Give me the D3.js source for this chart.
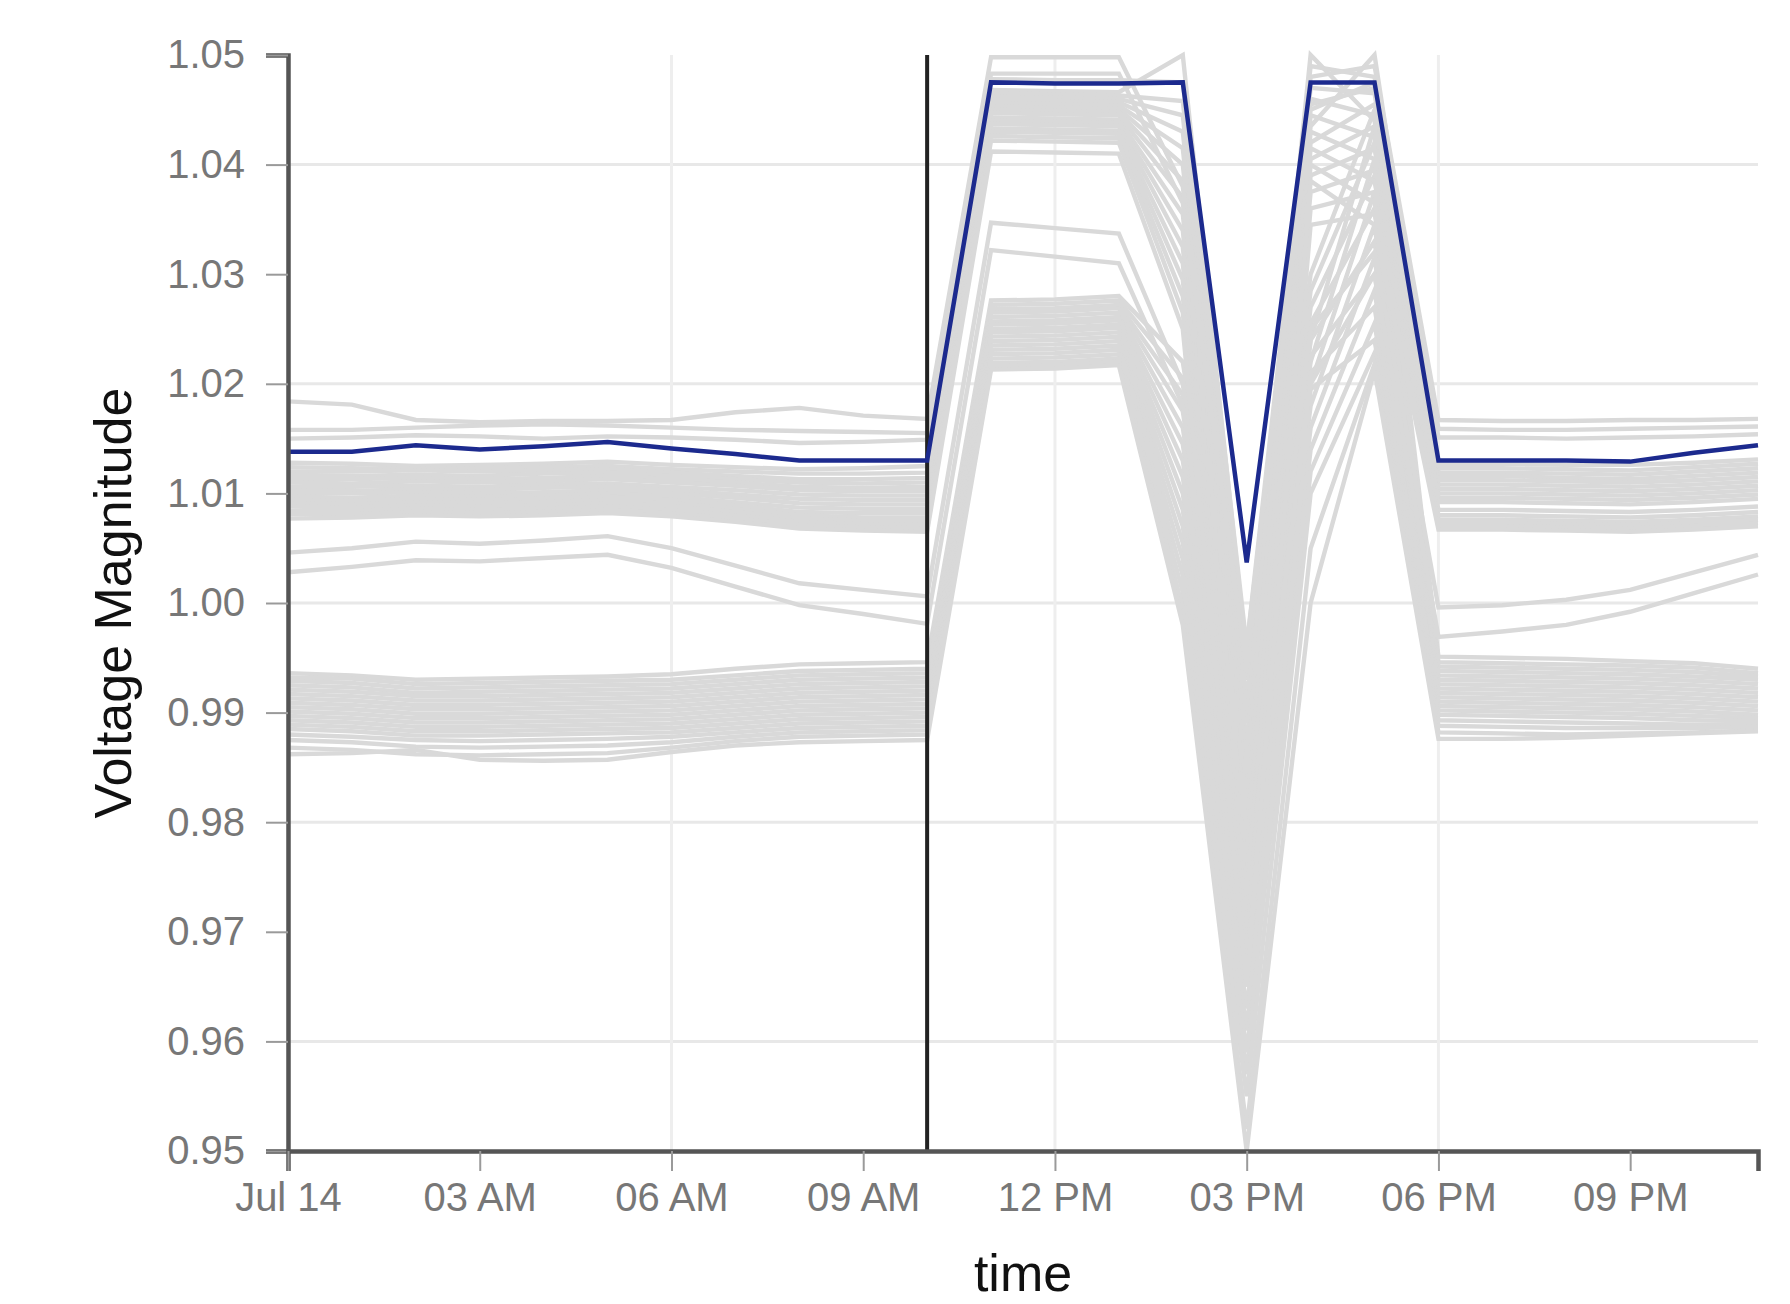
<!DOCTYPE html>
<html><head><meta charset="utf-8">
<script src="https://cdn.jsdelivr.net/npm/d3@7"></script>
<style>
html,body{margin:0;padding:0;background:#fff;}
svg{display:block;font-family:"Liberation Sans",Arial,Helvetica,sans-serif;}
</style></head><body>
<svg id="chart" width="1790" height="1304"></svg>
<script>
// ---------- DATA ----------
const hoursOfDay = [0,1,2,3,4,5,6,7,8,9,10,11,12,13,14,15,16,17,18,19,20,21,22,23];
const xTickHours = [0,3,6,9,12,15,18,21];
const xTickLabels = ["Jul 14","03 AM","06 AM","09 AM","12 PM","03 PM","06 PM","09 PM"];
const yTickValues = [0.95,0.96,0.97,0.98,0.99,1.00,1.01,1.02,1.03,1.04,1.05];
const gridYValues = [0.96,0.98,1.00,1.02,1.04];
const gridXHours = [0,6,12,18];
const markerHour = 10;

const selectedSeries = [1.0138,1.0138,1.0144,1.0140,1.0143,1.0147,1.0141,1.0136,1.0130,1.0130,1.0130, 1.0475,1.0474,1.0474,1.0475,1.0037,1.0475,1.0475, 1.0130,1.0130,1.0130,1.0129,1.0137,1.0144];

const grayUpper = [
 [1.0184,1.0181,1.0167,1.0165,1.0166,1.0166,1.0167,1.0174,1.0178,1.0171,1.0168, 1.0498,1.0498,1.0498,1.0380,0.9960,1.0480,1.0490, 1.0167,1.0166,1.0166,1.0167,1.0167,1.0168],
 [1.0158,1.0158,1.0160,1.0162,1.0163,1.0162,1.0160,1.0158,1.0157,1.0156,1.0155, 1.0483,1.0483,1.0483,1.0365,0.9940,1.0490,1.0480, 1.0159,1.0158,1.0158,1.0159,1.0160,1.0161],
 [1.0150,1.0151,1.0153,1.0152,1.0150,1.0152,1.0151,1.0149,1.0146,1.0147,1.0149, 1.0478,1.0477,1.0477,1.0475,0.9960,1.0450,1.0475, 1.0151,1.0151,1.0150,1.0151,1.0152,1.0154]
];

const grayTopBand = [
 [1.0128,1.0127,1.0125,1.0126,1.0127,1.0129,1.0126,1.0124,1.0122,1.0123,1.0125, 1.0468,1.0467,1.0466,1.0500,0.9950,1.0455,1.0470, 1.0127,1.0127,1.0126,1.0126,1.0128,1.0131],
 [1.0124,1.0123,1.0122,1.0123,1.0124,1.0125,1.0122,1.0120,1.0118,1.0118,1.0119, 1.0465,1.0464,1.0463,1.0458,0.9930,1.0500,1.0440, 1.0123,1.0123,1.0122,1.0121,1.0124,1.0127],
 [1.0120,1.0120,1.0121,1.0120,1.0121,1.0122,1.0119,1.0116,1.0113,1.0113,1.0114, 1.0462,1.0461,1.0460,1.0445,0.9910,1.0435,1.0500, 1.0119,1.0119,1.0118,1.0117,1.0120,1.0123],
 [1.0117,1.0116,1.0117,1.0116,1.0118,1.0119,1.0116,1.0113,1.0110,1.0109,1.0110, 1.0459,1.0458,1.0457,1.0430,0.9890,1.0470,1.0465, 1.0116,1.0116,1.0114,1.0113,1.0116,1.0119],
 [1.0113,1.0113,1.0114,1.0113,1.0114,1.0116,1.0113,1.0110,1.0106,1.0105,1.0106, 1.0456,1.0455,1.0454,1.0415,0.9870,1.0420,1.0455, 1.0112,1.0112,1.0111,1.0110,1.0112,1.0115],
 [1.0110,1.0109,1.0111,1.0110,1.0111,1.0113,1.0110,1.0107,1.0103,1.0102,1.0102, 1.0453,1.0452,1.0451,1.0400,0.9850,1.0460,1.0445, 1.0108,1.0108,1.0107,1.0106,1.0108,1.0111],
 [1.0106,1.0106,1.0107,1.0106,1.0108,1.0109,1.0106,1.0103,1.0099,1.0098,1.0098, 1.0450,1.0449,1.0448,1.0385,0.9830,1.0405,1.0435, 1.0104,1.0104,1.0103,1.0102,1.0104,1.0107],
 [1.0103,1.0102,1.0104,1.0103,1.0105,1.0106,1.0103,1.0099,1.0095,1.0094,1.0094, 1.0447,1.0446,1.0445,1.0370,0.9810,1.0445,1.0425, 1.0100,1.0100,1.0099,1.0098,1.0100,1.0103],
 [1.0100,1.0100,1.0101,1.0100,1.0101,1.0103,1.0100,1.0096,1.0091,1.0090,1.0090, 1.0443,1.0442,1.0441,1.0355,0.9790,1.0390,1.0415, 1.0096,1.0096,1.0095,1.0094,1.0096,1.0099],
 [1.0097,1.0096,1.0098,1.0097,1.0098,1.0100,1.0097,1.0092,1.0087,1.0086,1.0086, 1.0440,1.0439,1.0438,1.0340,0.9770,1.0430,1.0405, 1.0092,1.0092,1.0091,1.0090,1.0092,1.0095],
 [1.0094,1.0093,1.0095,1.0094,1.0095,1.0097,1.0094,1.0089,1.0083,1.0082,1.0082, 1.0437,1.0436,1.0435,1.0325,0.9750,1.0375,1.0395, 1.0085,1.0085,1.0084,1.0083,1.0085,1.0088],
 [1.0091,1.0090,1.0092,1.0091,1.0092,1.0094,1.0091,1.0086,1.0080,1.0078,1.0078, 1.0433,1.0432,1.0431,1.0310,0.9730,1.0415,1.0385, 1.0080,1.0080,1.0079,1.0078,1.0080,1.0083],
 [1.0088,1.0087,1.0089,1.0088,1.0089,1.0091,1.0088,1.0083,1.0077,1.0075,1.0075, 1.0430,1.0429,1.0428,1.0295,0.9710,1.0360,1.0375, 1.0076,1.0076,1.0075,1.0074,1.0076,1.0079],
 [1.0084,1.0084,1.0086,1.0085,1.0086,1.0088,1.0085,1.0080,1.0074,1.0072,1.0071, 1.0426,1.0425,1.0424,1.0280,0.9690,1.0400,1.0365, 1.0073,1.0073,1.0072,1.0071,1.0073,1.0076],
 [1.0081,1.0081,1.0083,1.0082,1.0083,1.0085,1.0082,1.0077,1.0071,1.0069,1.0068, 1.0422,1.0421,1.0420,1.0265,0.9670,1.0345,1.0355, 1.0070,1.0070,1.0069,1.0068,1.0070,1.0073],
 [1.0077,1.0078,1.0080,1.0079,1.0080,1.0082,1.0079,1.0074,1.0068,1.0066,1.0065, 1.0412,1.0411,1.0410,1.0250,0.9650,1.0385,1.0345, 1.0067,1.0067,1.0066,1.0065,1.0067,1.0070]
];

const grayMiddle = [
 [1.0046,1.0050,1.0056,1.0054,1.0057,1.0061,1.0050,1.0034,1.0018,1.0012,1.0006, 1.0347,1.0342,1.0337,1.0200,0.9770,1.0250,1.0320, 0.9996,0.9998,1.0003,1.0012,1.0028,1.0044],
 [1.0028,1.0033,1.0039,1.0038,1.0041,1.0044,1.0032,1.0015,0.9998,0.9990,0.9981, 1.0322,1.0316,1.0310,1.0180,0.9750,1.0200,1.0300, 0.9969,0.9974,0.9980,0.9992,1.0009,1.0026]
];

const grayBottomBand = [
 [0.9936,0.9934,0.9930,0.9931,0.9932,0.9933,0.9935,0.9940,0.9944,0.9945,0.9946, 1.0276,1.0277,1.0280,1.0220,0.9850,1.0300,1.0450, 0.9951,0.9950,0.9949,0.9947,0.9945,0.9940],
 [0.9932,0.9931,0.9926,0.9927,0.9928,0.9929,0.9930,0.9934,0.9938,0.9939,0.9940, 1.0272,1.0273,1.0276,1.0205,0.9830,1.0240,1.0435, 0.9946,0.9945,0.9944,0.9943,0.9941,0.9936],
 [0.9929,0.9927,0.9922,0.9923,0.9924,0.9925,0.9926,0.9930,0.9934,0.9935,0.9936, 1.0268,1.0269,1.0272,1.0190,0.9810,1.0285,1.0420, 0.9942,0.9941,0.9940,0.9939,0.9937,0.9933],
 [0.9925,0.9923,0.9918,0.9919,0.9920,0.9921,0.9922,0.9926,0.9930,0.9931,0.9932, 1.0265,1.0266,1.0269,1.0175,0.9790,1.0220,1.0405, 0.9938,0.9937,0.9936,0.9935,0.9933,0.9930],
 [0.9921,0.9919,0.9915,0.9915,0.9916,0.9917,0.9918,0.9922,0.9926,0.9927,0.9928, 1.0261,1.0262,1.0265,1.0160,0.9770,1.0270,1.0390, 0.9934,0.9933,0.9932,0.9931,0.9929,0.9926],
 [0.9917,0.9915,0.9911,0.9911,0.9912,0.9913,0.9914,0.9918,0.9922,0.9923,0.9924, 1.0257,1.0258,1.0261,1.0145,0.9750,1.0200,1.0375, 0.9930,0.9929,0.9928,0.9927,0.9925,0.9922],
 [0.9913,0.9911,0.9907,0.9907,0.9908,0.9909,0.9910,0.9914,0.9918,0.9919,0.9920, 1.0254,1.0255,1.0258,1.0130,0.9730,1.0255,1.0360, 0.9926,0.9925,0.9924,0.9923,0.9921,0.9918],
 [0.9909,0.9907,0.9903,0.9903,0.9904,0.9905,0.9906,0.9910,0.9914,0.9915,0.9916, 1.0250,1.0251,1.0254,1.0115,0.9710,1.0180,1.0345, 0.9922,0.9921,0.9920,0.9919,0.9917,0.9914],
 [0.9905,0.9903,0.9899,0.9899,0.9900,0.9901,0.9902,0.9906,0.9910,0.9911,0.9912, 1.0247,1.0248,1.0251,1.0100,0.9690,1.0240,1.0330, 0.9918,0.9917,0.9916,0.9915,0.9913,0.9910],
 [0.9901,0.9899,0.9895,0.9895,0.9896,0.9897,0.9898,0.9902,0.9906,0.9907,0.9908, 1.0243,1.0244,1.0247,1.0085,0.9670,1.0160,1.0315, 0.9914,0.9913,0.9912,0.9911,0.9909,0.9906],
 [0.9897,0.9895,0.9891,0.9891,0.9892,0.9893,0.9894,0.9898,0.9902,0.9903,0.9904, 1.0239,1.0240,1.0243,1.0070,0.9650,1.0225,1.0300, 0.9910,0.9909,0.9908,0.9907,0.9905,0.9902],
 [0.9893,0.9891,0.9887,0.9887,0.9888,0.9889,0.9890,0.9894,0.9898,0.9899,0.9900, 1.0235,1.0236,1.0239,1.0055,0.9630,1.0140,1.0285, 0.9906,0.9905,0.9904,0.9903,0.9901,0.9898],
 [0.9889,0.9887,0.9883,0.9883,0.9884,0.9885,0.9886,0.9890,0.9894,0.9895,0.9896, 1.0231,1.0232,1.0235,1.0040,0.9610,1.0210,1.0270, 0.9902,0.9901,0.9900,0.9899,0.9897,0.9895],
 [0.9885,0.9883,0.9879,0.9879,0.9880,0.9881,0.9882,0.9886,0.9890,0.9891,0.9892, 1.0227,1.0228,1.0231,1.0025,0.9590,1.0120,1.0255, 0.9898,0.9897,0.9896,0.9895,0.9893,0.9892],
 [0.9880,0.9878,0.9875,0.9874,0.9875,0.9876,0.9878,0.9882,0.9886,0.9887,0.9888, 1.0223,1.0224,1.0227,1.0010,0.9570,1.0195,1.0240, 0.9893,0.9892,0.9891,0.9890,0.9889,0.9889],
 [0.9875,0.9873,0.9869,0.9868,0.9869,0.9870,0.9873,0.9878,0.9882,0.9883,0.9884, 1.0219,1.0220,1.0223,0.9995,0.9550,1.0100,1.0228, 0.9888,0.9887,0.9886,0.9886,0.9886,0.9887],
 [0.9868,0.9866,0.9862,0.9861,0.9862,0.9863,0.9868,0.9874,0.9878,0.9879,0.9880, 1.0216,1.0217,1.0220,0.9985,0.9520,1.0050,1.0218, 0.9882,0.9881,0.9880,0.9881,0.9882,0.9884],
 [0.9862,0.9863,0.9866,0.9857,0.9856,0.9857,0.9864,0.9870,0.9873,0.9874,0.9875, 1.0213,1.0214,1.0217,0.9980,0.9500,1.0000,1.0212, 0.9876,0.9876,0.9877,0.9879,0.9881,0.9883]
];

// ---------- CHART ----------
const hourDate = h => new Date(2019, 6, 14, h);
const times = hoursOfDay.map(hourDate);

const plotLeft = 288, plotRight = 1758, plotTop = 55, plotBottom = 1151;
const x = d3.scaleTime().domain([times[0], times[times.length-1]]).range([plotLeft, plotRight]);
const y = d3.scaleLinear().domain([0.95, 1.05]).range([plotBottom, plotTop]);

const svg = d3.select("#chart");

// grid
const grid = svg.append("g");
grid.selectAll("line.gy").data(gridYValues).join("line").attr("class","gy")
  .attr("x1", plotLeft).attr("x2", plotRight)
  .attr("y1", d => y(d)).attr("y2", d => y(d))
  .attr("stroke", "#e8e8e8").attr("stroke-width", 3);
grid.selectAll("line.gx").data(gridXHours).join("line").attr("class","gx")
  .attr("x1", d => x(hourDate(d))).attr("x2", d => x(hourDate(d)))
  .attr("y1", plotTop).attr("y2", plotBottom)
  .attr("stroke", "#eeeeee").attr("stroke-width", 3);

const lineGen = d3.line().x((d, i) => x(times[i])).y(d => y(d));

const grayAll = [].concat(grayBottomBand, grayMiddle, grayTopBand, grayUpper);
svg.append("g").selectAll("path").data(grayAll).join("path")
  .attr("d", lineGen).attr("fill", "none")
  .attr("stroke", "#d9d9d9").attr("stroke-width", 4.4)
  .attr("stroke-linejoin", "miter");

// vertical marker
svg.append("line")
  .attr("x1", x(hourDate(markerHour))).attr("x2", x(hourDate(markerHour)))
  .attr("y1", y(1.05)).attr("y2", plotBottom)
  .attr("stroke", "#222").attr("stroke-width", 4);

// selected series
svg.append("path").datum(selectedSeries)
  .attr("d", lineGen).attr("fill", "none")
  .attr("stroke", "#1c2a8e").attr("stroke-width", 4.5)
  .attr("stroke-linejoin", "miter");

// axes
const yAxis = d3.axisLeft(y).tickValues(yTickValues).tickFormat(d3.format(".2f"))
  .tickSize(22).tickPadding(21);
const gy = svg.append("g").attr("transform", `translate(${plotLeft},0)`).call(yAxis);

const xAxis = d3.axisBottom(x).tickValues(xTickHours.map(hourDate))
  .tickFormat((d, i) => xTickLabels[i]).tickSize(20).tickPadding(12);
const gx = svg.append("g").attr("transform", `translate(0,${plotBottom})`).call(xAxis);

[gx, gy].forEach(g => {
  g.select(".domain").attr("stroke", "#555").attr("stroke-width", 4.5);
  g.selectAll(".tick line").attr("stroke", "#9a9a9a").attr("stroke-width", 2);
  g.selectAll(".tick text").attr("fill", "#777").attr("font-size", 40)
    .attr("font-family", '"Liberation Sans", Arial, sans-serif');
});

// titles
svg.append("text")
  .attr("transform", `translate(131,${(plotTop+plotBottom)/2}) rotate(-90)`)
  .attr("text-anchor", "middle").attr("font-size", 52).attr("fill", "#111")
  .text("Voltage Magnitude");
svg.append("text")
  .attr("x", (plotLeft+plotRight)/2).attr("y", 1291)
  .attr("text-anchor", "middle").attr("font-size", 52).attr("fill", "#111")
  .text("time");
</script>
</body></html>
